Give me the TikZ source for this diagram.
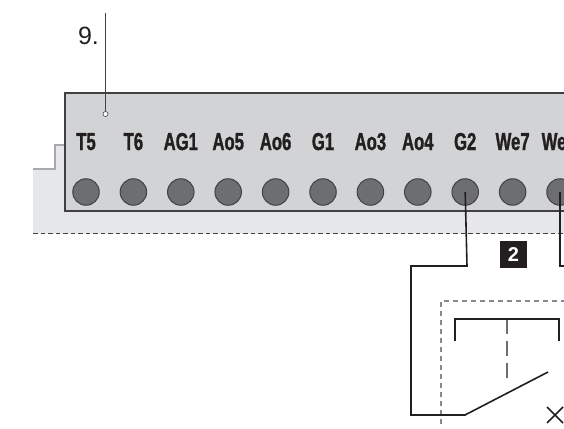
\documentclass[tikz,border=0pt]{standalone}
\usepackage{fontspec}
\setmainfont{Liberation Sans}
\newfontfamily\termfont[FakeStretch=0.68,BoldFeatures={FakeBold=1.2}]{Liberation Sans}
\usetikzlibrary{
	positioning,
	calc,
}
\definecolor{panelgray}{HTML}{D1D3D4}
\definecolor{bandgray}{HTML}{E6E7E8}
\definecolor{stepgray}{HTML}{A7A9AC}
\definecolor{pingray}{HTML}{6D6E71}
\definecolor{edgegray}{HTML}{414042}
\definecolor{inkblack}{HTML}{231F20}
\tikzset{pin/.style={
		% The shape:
		circle,inner sep=0pt,
		% The size:
		minimum size=26.5pt,
		% The rest
		draw=edgegray,line width=1pt,fill=pingray,
}}
\tikzset{termlabel/.style={
		font=\termfont\bfseries\fontsize{24.5}{26}\selectfont,text=inkblack,
		inner sep=0pt,
}}
\tikzset{wire/.style={inkblack,line width=1.6pt}}
\begin{document}
\begin{tikzpicture}[x=1pt,y=-1pt]
	\useasboundingbox (0,0) rectangle (564,428);
	\clip (0,0) rectangle (564,428);
	% background band and step
	\fill [bandgray] (33,169) -| (55,145) -- (564,145) -- (564,233.5) -- (33,233.5) -- cycle;
	\draw [stepgray,line width=1.8pt] (33,169) -- (55,169) -- (55,145) -- (64,145);
	\draw [edgegray,line width=0.8pt,dash pattern=on 4.5pt off 3pt] (33,233.5) -- (564,233.5);
	% terminal panel
	\node (panel) [draw=edgegray,line width=2pt,fill=panelgray,inner sep=0pt,
		minimum width=540pt,minimum height=118.3pt,anchor=north west] at (63.8,91.5) {};
	\foreach \pname/\ptext [count=\i from 0] in {T5/T5,T6/T6,AG1/AG1,Ao5/Ao5,Ao6/Ao6,G1/G1,Ao3/Ao3,Ao4/Ao4,G2/G2,We7/We7} {
		\node (\pname) [pin] at ({86+47.4*\i},192) {};
		\node (label\pname) [termlabel,anchor=base] at ($(\pname.center)+(0,-42)$) {\ptext};
	}
	\node (We8) [pin] at (560,192) {};
	\node (labelWe8) [termlabel,anchor=base west] at ($(We8.center)+(-18.5,-42)$) {We};
	% leader
	\node (nine) [font=\fontsize{25}{27}\selectfont,text=inkblack,inner sep=0pt] at (88.5,36) {9.};
	\node (dot) [circle,draw=edgegray,fill=white,line width=0.6pt,inner sep=0pt,minimum size=5pt] at (105.5,114) {};
	\coordinate (leadtop) at (105.5,13);
	\draw [edgegray,line width=0.9pt] (leadtop) -- (dot);
	% tag
	\node (tag) [fill=inkblack,text=white,font=\bfseries\fontsize{20}{22}\selectfont,
		minimum size=27pt,inner sep=0pt] at (513.5,254.5) {2};
	% dashed frame
	\coordinate (frameend) at (564,301);
	\coordinate (framecorner) at (441,301);
	\coordinate (framefoot) at (441,424);
	\draw [stepgray!70!edgegray,line width=1.3pt,dash pattern=on 5pt off 4pt] (framefoot) -- (framecorner) -- (frameend);
	% switch contacts
	\coordinate (contactl) at (455,341);
	\coordinate (contactr) at (559,341);
	\coordinate (midtop) at (507,319);
	\coordinate (midend) at (507,381);
	\draw [pingray,line width=1.8pt,dash pattern=on 15pt off 7pt] (midtop) -- (midend);
	\draw [wire,line width=1.8pt] (contactl) |- (midtop) -| (contactr);
	% wires
	\coordinate (hinge) at (465,415);
	\coordinate (blade) at (548,372);
	\draw [wire] (G2.center) -- (467,266) -- (411,266) -- (411,415) -- (hinge) -- (blade);
	\coordinate (wireend) at (564,266);
	\draw [wire] (We8.center) -- (560,266) -- (wireend);
	% cross
	\coordinate (crossa) at (547,407);
	\coordinate (crossb) at (563,423);
	\coordinate (crossc) at (547,423);
	\coordinate (crossd) at (563,407);
	\draw [wire] (crossa) -- (crossb) (crossc) -- (crossd);
\end{tikzpicture}
\end{document}
